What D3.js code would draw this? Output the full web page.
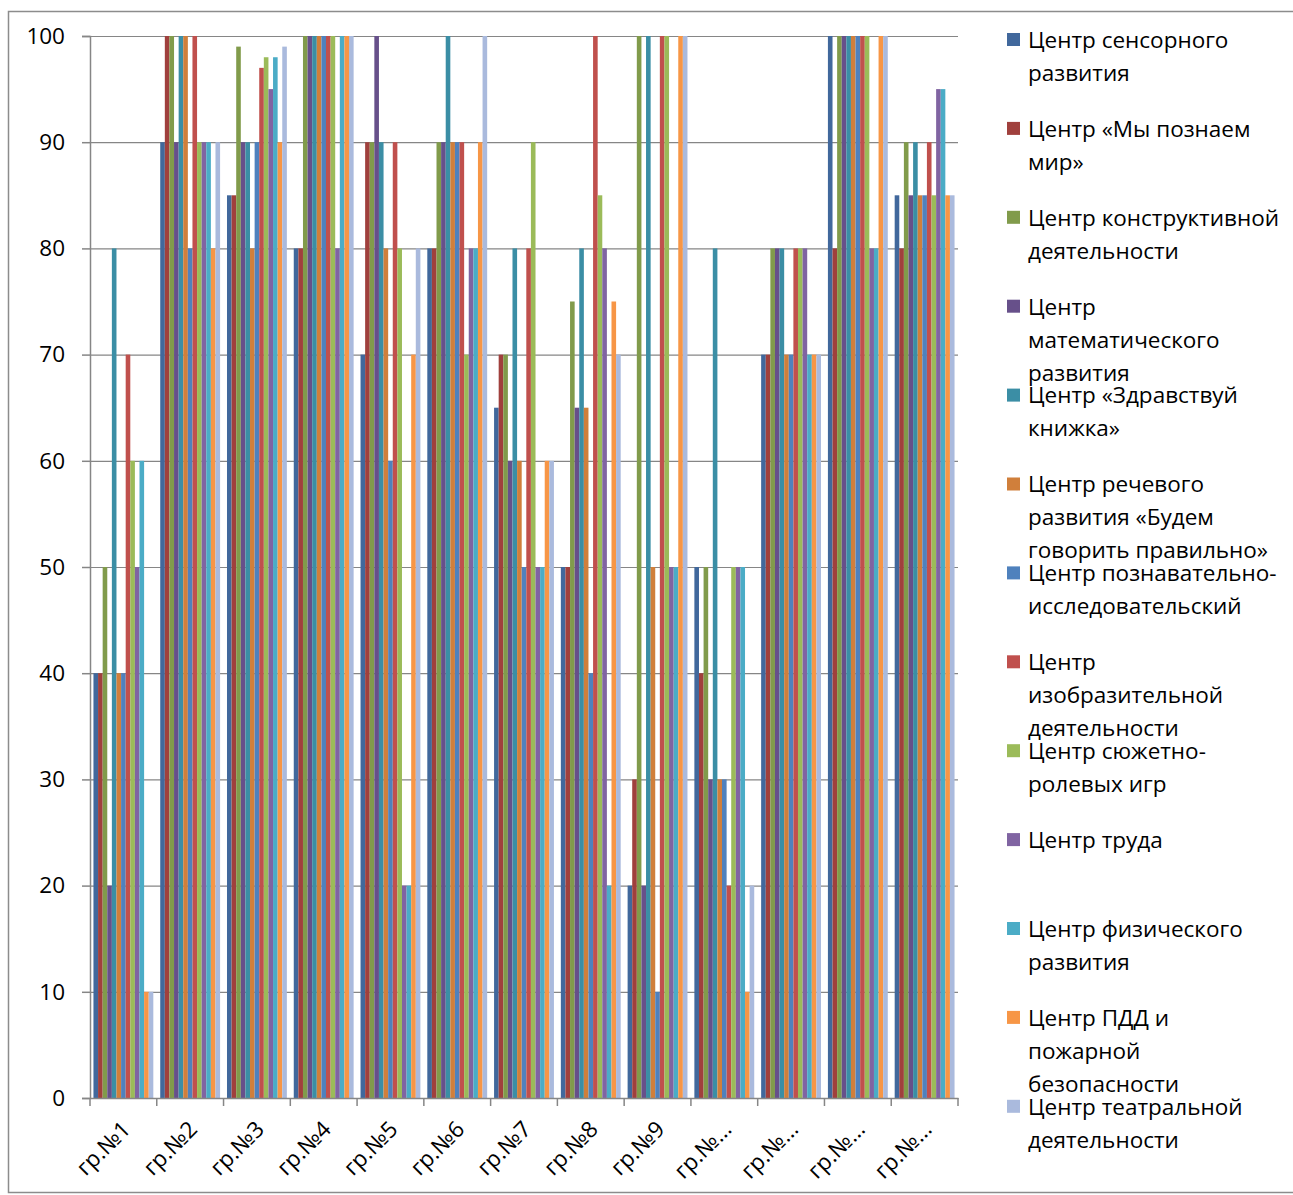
<!DOCTYPE html>
<html>
<head>
<meta charset="utf-8">
<script src="https://cdn.jsdelivr.net/npm/d3@7"></script>
<style>
  html, body { margin: 0; padding: 0; background: #fff; }
  svg { display: block; }
  text { font-family: "Open Sans", "Noto Sans", sans-serif; fill: #000; }
</style>
</head>
<body>
<svg id="chart" width="1293" height="1195"></svg>
<script>
const categories = ["гр.№1","гр.№2","гр.№3","гр.№4","гр.№5","гр.№6","гр.№7","гр.№8","гр.№9","гр.№10","гр.№11","гр.№12","гр.№13"];

const seriesNames = [
  "Центр сенсорного развития",
  "Центр «Мы познаем мир»",
  "Центр конструктивной деятельности",
  "Центр математического развития",
  "Центр «Здравствуй книжка»",
  "Центр речевого развития «Будем говорить правильно»",
  "Центр познавательно-исследовательский",
  "Центр изобразительной деятельности",
  "Центр сюжетно-ролевых игр",
  "Центр труда",
  "Центр физического развития",
  "Центр ПДД и пожарной безопасности",
  "Центр театральной деятельности"
];

// legend lines as wrapped in the picture
const legendLines = [
  ["Центр сенсорного", "развития"],
  ["Центр «Мы познаем", "мир»"],
  ["Центр конструктивной", "деятельности"],
  ["Центр", "математического", "развития"],
  ["Центр «Здравствуй", "книжка»"],
  ["Центр речевого", "развития «Будем", "говорить правильно»"],
  ["Центр познавательно-", "исследовательский"],
  ["Центр", "изобразительной", "деятельности"],
  ["Центр сюжетно-", "ролевых игр"],
  ["Центр труда"],
  ["Центр физического", "развития"],
  ["Центр ПДД и", "пожарной", "безопасности"],
  ["Центр театральной", "деятельности"]
];

const sensory      = [40, 90, 85, 80, 70, 80, 65, 50, 20, 50, 70, 100, 85];
const worldKnow    = [40, 100, 85, 80, 90, 80, 70, 50, 30, 40, 70, 80, 80];
const constructive = [50, 100, 99, 100, 90, 90, 70, 75, 100, 50, 80, 100, 90];
const math         = [20, 90, 90, 100, 100, 90, 60, 65, 20, 30, 80, 100, 85];
const books        = [80, 100, 90, 100, 90, 100, 80, 80, 100, 80, 80, 100, 90];
const speech       = [40, 100, 80, 100, 80, 90, 60, 65, 50, 30, 70, 100, 85];
const research     = [40, 80, 90, 100, 60, 90, 50, 40, 10, 30, 70, 100, 85];
const visualArt    = [70, 100, 97, 100, 90, 90, 80, 100, 100, 20, 80, 100, 90];
const rolePlay     = [60, 90, 98, 100, 80, 70, 90, 85, 100, 50, 80, 100, 85];
const labour       = [50, 90, 95, 80, 20, 80, 50, 80, 50, 50, 80, 80, 95];
const physical     = [60, 90, 98, 100, 20, 80, 50, 20, 50, 50, 70, 80, 95];
const traffic      = [10, 80, 90, 100, 70, 90, 60, 75, 100, 10, 70, 100, 85];
const theatre      = [10, 90, 99, 100, 80, 100, 60, 70, 100, 20, 70, 100, 85];

const seriesValues = [sensory, worldKnow, constructive, math, books, speech, research,
                      visualArt, rolePlay, labour, physical, traffic, theatre];

const colors = ["#41689C", "#A0403D", "#819B4B", "#67508A", "#3B8EA5", "#D07F3B",
                "#4F81BD", "#C0504D", "#9BBB59", "#8064A2", "#4BACC6", "#F79646", "#AABADD"];

const yTicks = [0, 10, 20, 30, 40, 50, 60, 70, 80, 90, 100];

const svg = d3.select("#chart");

// outer frame
svg.append("rect")
  .attr("x", 8.5).attr("y", 11.5)
  .attr("width", 1400).attr("height", 1181)
  .attr("fill", "none").attr("stroke", "#8C8C8C").attr("stroke-width", 1.5);

const plot = { left: 90, right: 958, top: 36, bottom: 1098 };

const x0 = d3.scaleBand().domain(categories).range([plot.left, plot.right]).padding(0);
const x1 = d3.scaleBand().domain(d3.range(seriesNames.length))
  .range([0, x0.bandwidth()]).paddingInner(0).paddingOuter(0.75);
const y = d3.scaleLinear().domain([0, 100]).range([plot.bottom, plot.top]);

// gridlines
svg.append("g").selectAll("line").data(yTicks.filter(d => d > 0)).join("line")
  .attr("x1", plot.left).attr("x2", plot.right)
  .attr("y1", d => y(d) + 0.5).attr("y2", d => y(d) + 0.5)
  .attr("stroke", "#868686").attr("stroke-width", 1.2);

// bars
const groups = svg.append("g").selectAll("g").data(categories).join("g")
  .attr("transform", c => `translate(${x0(c)},0)`);
groups.selectAll("rect")
  .data((c, ci) => seriesValues.map((vals, si) => ({ si, v: vals[ci] })))
  .join("rect")
  .attr("x", d => x1(d.si))
  .attr("width", x1.bandwidth())
  .attr("y", d => y(d.v))
  .attr("height", d => y(0) - y(d.v))
  .attr("fill", d => colors[d.si]);

// y axis
const yAxis = d3.axisLeft(y).tickValues(yTicks).tickSize(8).tickPadding(17);
const gy = svg.append("g").attr("transform", `translate(${plot.left},0)`).call(yAxis);
gy.select(".domain").attr("stroke", "#868686").attr("stroke-width", 1.5);
gy.selectAll(".tick line").attr("stroke", "#868686").attr("stroke-width", 1.5);
gy.selectAll(".tick text").attr("font-size", 22.5).attr("font-family", "Open Sans, sans-serif").attr("fill", "#000");

// x axis
const xAxis = d3.axisBottom(x0).tickSize(0).tickFormat(d => d.length > 5 ? "гр.№…" : d);
const gx = svg.append("g").attr("transform", `translate(0,${plot.bottom})`).call(xAxis);
gx.select(".domain").attr("stroke", "#868686").attr("stroke-width", 1.5);
gx.selectAll(".tick text")
  .attr("font-size", 22.5).attr("font-family", "Open Sans, sans-serif").attr("fill", "#000")
  .attr("text-anchor", "end")
  .attr("transform", "translate(3,27) rotate(-45)")
  .attr("dy", "0.35em").attr("y", 0);
// boundary tick marks
const bounds = categories.map(c => x0(c)).concat([plot.right]);
gx.append("g").selectAll("line").data(bounds).join("line")
  .attr("x1", d => d).attr("x2", d => d).attr("y1", 0).attr("y2", 8)
  .attr("stroke", "#868686").attr("stroke-width", 1.5);

// legend
const legend = svg.append("g");
legendLines.forEach((lines, i) => {
  const top = 40 + i * 88.9;
  legend.append("rect")
    .attr("x", 1007).attr("y", top - 7).attr("width", 13).attr("height", 13)
    .attr("fill", colors[i]);
  lines.forEach((ln, j) => {
    legend.append("text")
      .attr("x", 1028).attr("y", top + j * 33)
      .attr("dy", "0.35em")
      .attr("font-size", 22.5)
      .text(ln);
  });
});
</script>
</body>
</html>
